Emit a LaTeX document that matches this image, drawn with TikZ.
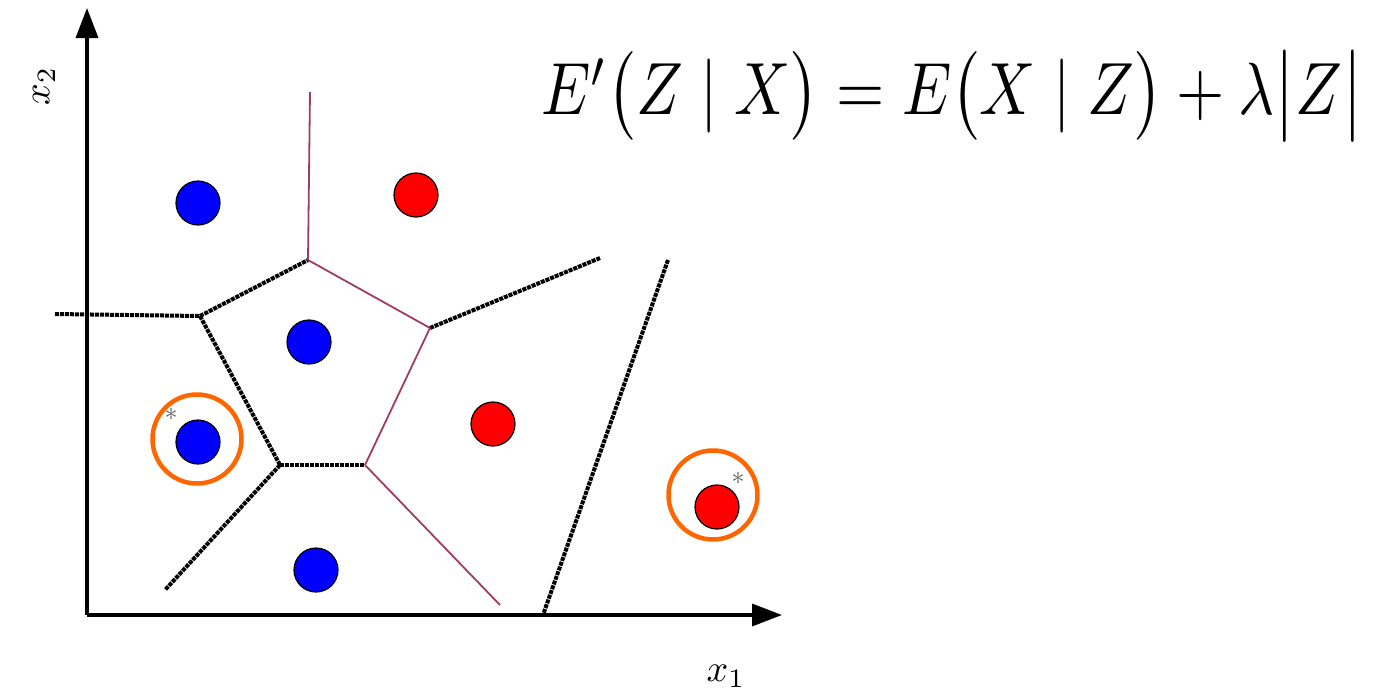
\documentclass[tikz,border=0pt]{standalone}
\usepackage{amsmath}
\usetikzlibrary{arrows.meta}
\definecolor{bnd}{RGB}{160,60,100}
\definecolor{ring}{RGB}{255,102,0}
\begin{document}
\begin{tikzpicture}[x=1pt,y=-1pt,
  axis/.style={line width=3.5pt,-{Triangle[length=30pt,width=22pt]}},
  dotline/.style={line width=4pt,dash pattern=on 4pt off 1pt,black},
  pinkline/.style={line width=1.8pt,bnd},
  bluept/.style={circle,draw=black,line width=1.2pt,fill=blue,minimum size=44pt,inner sep=0pt},
  redpt/.style={circle,draw=black,line width=1.2pt,fill=red,minimum size=44pt,inner sep=0pt},
  ringc/.style={circle,draw=ring,line width=4.5pt,minimum size=89pt,inner sep=0pt},
  star/.style={text=gray!70!black,scale=2.6,transform shape,inner sep=0pt},
  lbl/.style={scale=3.8,transform shape,inner sep=0pt}]
\useasboundingbox (0,0) rectangle (1374,694);
% axes
\coordinate (O) at (87,615);
\coordinate (Ytip) at (87,8);
\coordinate (Xtip) at (782,615);
\draw[axis] (O) -- (Ytip);
\draw[axis] (O) -- (Xtip);
\node[lbl,rotate=90] (x2) at (44,86) {$x_2$};
\node[lbl] (x1) at (726,676) {$x_1$};
% vertices
\coordinate (L) at (55,314);
\coordinate (A) at (200,316);
\coordinate (B) at (308,260);
\coordinate (C) at (430,328);
\coordinate (D) at (365,465);
\coordinate (E) at (280,465);
\coordinate (F) at (165,590);
\coordinate (G) at (600,258);
\coordinate (T) at (310,92);
\coordinate (H) at (500,605);
\coordinate (P) at (668,260);
\coordinate (Q) at (543,615);
% dotted boundaries
\draw[dotline] (L) -- (A);
\draw[dotline] (A) -- (B);
\draw[dotline] (A) -- (E);
\draw[dotline] (E) -- (D);
\draw[dotline] (E) -- (F);
\draw[dotline] (C) -- (G);
\draw[dotline] (P) -- (Q);
% pink boundaries
\draw[pinkline] (T) -- (B);
\draw[pinkline] (B) -- (C);
\draw[pinkline] (C) -- (D);
\draw[pinkline] (D) -- (H);
% points
\node[bluept] (b1) at (198,203) {};
\node[bluept] (b2) at (309,342) {};
\node[bluept] (b3) at (198,442) {};
\node[bluept] (b4) at (316,570) {};
\node[redpt] (r1) at (416,195) {};
\node[redpt] (r2) at (493,424) {};
\node[redpt] (r3) at (717,507) {};
% rings
\node[ringc] (c1) at (197,439) {};
\node[ringc] (c2) at (713,495) {};
\node[star] (s1) at (171,414) {$\ast$};
\node[star] (s2) at (738,478) {$\ast$};
% formula
\node[inner sep=0pt,xscale=6.2,yscale=7.4,transform shape] (eq) at (952,96)
  {$E'\bigl(Z\mid X\bigr)=E\bigl(X\mid Z\bigr)+\lambda\bigl|Z\bigr|$};
\end{tikzpicture}
\end{document}
